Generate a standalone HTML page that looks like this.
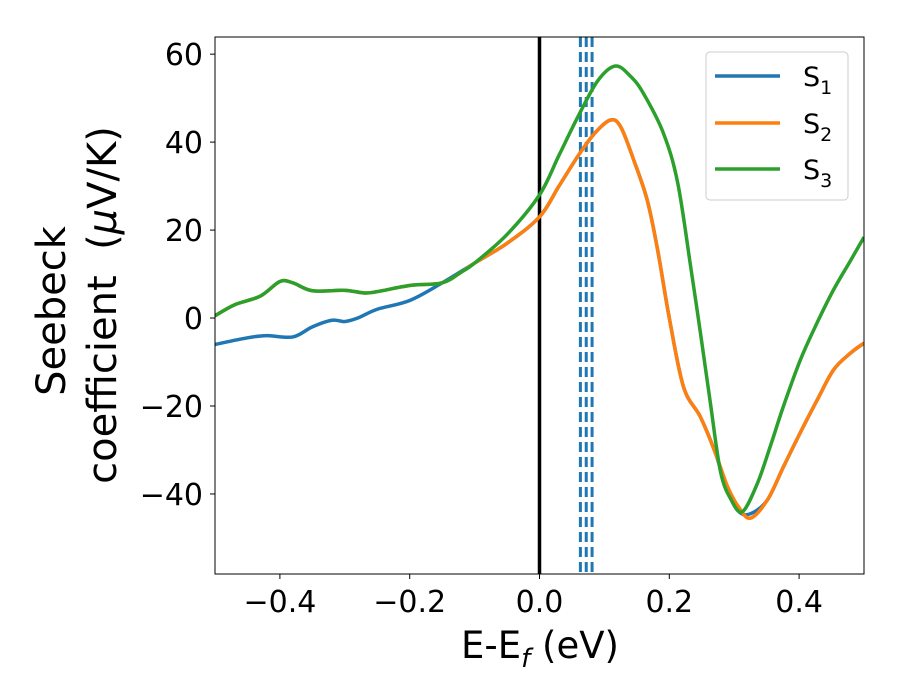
<!DOCTYPE html>
<html><head><meta charset="utf-8"><style>
body{margin:0;background:#fff;}
svg{display:block;font-family:"DejaVu Sans","Liberation Sans",sans-serif;}
</style></head><body>
<svg id="chart" width="900" height="700">
<defs><clipPath id="clip"><rect x="215" y="37" width="649" height="537"/></clipPath></defs>
<rect x="0" y="0" width="900" height="700" fill="#fff"/>
<g id="series" clip-path="url(#clip)"></g>
<rect x="215" y="37" width="649" height="537" fill="none" stroke="#000" stroke-width="1"/>
<g id="axes"></g>
<text x="540" y="658" font-size="37" text-anchor="middle">E-E<tspan font-style="italic" font-size="26" dy="9">f</tspan><tspan dy="-9"> (eV)</tspan></text>
<text transform="translate(65,311) rotate(-90)" font-size="40" text-anchor="middle">Seebeck</text>
<text transform="translate(116,305) rotate(-90)" font-size="40" text-anchor="middle" xml:space="preserve">coefficient  (<tspan font-style="italic">μ</tspan>V/K)</text>
<g>
<rect x="706" y="52" width="142" height="148" rx="4" fill="#fff" fill-opacity="0.8" stroke="#ccc"/>
<line x1="715" y1="76" x2="780" y2="76" stroke="#1f77b4" stroke-width="3.5"/>
<text x="803" y="86" font-size="27">S<tspan font-size="19" dy="8">1</tspan></text>
<line x1="715" y1="123" x2="780" y2="123" stroke="#ff7f0e" stroke-width="3.5"/>
<text x="803" y="133" font-size="27">S<tspan font-size="19" dy="8">2</tspan></text>
<line x1="715" y1="169" x2="780" y2="169" stroke="#2ca02c" stroke-width="3.5"/>
<text x="803" y="179" font-size="27">S<tspan font-size="19" dy="8">3</tspan></text>
</g>
</svg>
<script>
const xTicks=[-0.4,-0.2,0.0,0.2,0.4];
const xTickLabels=["−0.4","−0.2","0.0","0.2","0.4"];
const yTicks=[-40,-20,0,20,40,60];
const yTickLabels=["−40","−20","0","20","40","60"];
const s1X=[-0.5,-0.45,-0.42,-0.38,-0.35,-0.32,-0.3,-0.28,-0.25,-0.2,-0.15,-0.1,-0.05,0,0.03,0.06,0.085,0.109,0.125,0.145,0.166,0.182,0.2,0.222,0.248,0.271,0.29,0.307,0.325,0.351,0.376,0.402,0.428,0.453,0.479,0.5];
const s1Y=[-6,-4.5,-4,-4.3,-2,-0.5,-0.8,0,2,4,8,12.5,17,23,30,37,42,45,43.5,36,26.8,15.5,0,-15.7,-22.5,-30.7,-39.5,-44,-44.5,-41.4,-33.8,-26,-18.6,-11.8,-8,-5.7];
const s2X=[-0.5,-0.47,-0.43,-0.4,-0.38,-0.35,-0.3,-0.27,-0.25,-0.2,-0.15,-0.12,-0.1,-0.05,0,0.03,0.06,0.085,0.109,0.125,0.145,0.166,0.182,0.2,0.222,0.248,0.271,0.29,0.307,0.325,0.351,0.376,0.402,0.428,0.453,0.479,0.5];
const s2Y=[0.5,3,5,8.3,8,6.2,6.3,5.7,6,7.4,8,10.5,12.5,17,23,30,37,42,45,43.5,36,26.8,15.5,0,-15.7,-22.5,-30.7,-38.4,-43,-45.5,-41.4,-33.8,-26,-18.6,-11.8,-8,-5.7];
const s3X=[-0.5,-0.47,-0.43,-0.4,-0.38,-0.35,-0.3,-0.27,-0.25,-0.2,-0.15,-0.12,-0.1,-0.05,0,0.03,0.06,0.09,0.117,0.14,0.16,0.191,0.213,0.233,0.248,0.263,0.279,0.296,0.313,0.336,0.356,0.376,0.402,0.428,0.453,0.479,0.5];
const s3Y=[0.5,3,5,8.3,8,6.2,6.3,5.7,6,7.4,8,10.5,12.5,19,28,37,46,54,57.3,55,51.1,42,30.7,11.6,-3.4,-19,-35,-41.5,-44,-37.5,-29,-20,-9.5,-1,6.4,13,18.4];
const vLines=[0.063,0.072,0.081];
const xMin=-0.5,xMax=0.5,yMin=-58.2,yMax=63.9;
const L=215,R=864,T=37,B=574;
const sx=v=>L+(v-xMin)/(xMax-xMin)*(R-L);
const sy=v=>B-(v-yMin)/(yMax-yMin)*(B-T);
const NS="http://www.w3.org/2000/svg";
const axes=document.getElementById('axes'), series=document.getElementById('series');
function mk(t,a,p){const e=document.createElementNS(NS,t);for(const k in a)e.setAttribute(k,a[k]);p.appendChild(e);return e;}
xTicks.forEach((v,i)=>{
 const t=mk('line',{x1:sx(v),x2:sx(v),y1:B,y2:B+5,stroke:'#000'},axes);
 
 
 const l=mk('text',{x:sx(v),y:B+38,'font-size':30,'text-anchor':'middle'},axes);l.textContent=xTickLabels[i];
 
 
});
yTicks.forEach((v,i)=>{
 const t=mk('line',{x1:L-5,x2:L,y1:sy(v),y2:sy(v),stroke:'#000'},axes);
 
 
 const l=mk('text',{x:L-12,y:sy(v)+11,'font-size':30,'text-anchor':'end'},axes);l.textContent=yTickLabels[i];
 
 
});
function path(xs,ys){
 const p=xs.map((x,i)=>[sx(x),sy(ys[i])]);
 let d='M'+p[0][0]+','+p[0][1];
 for(let i=0;i<p.length-1;i++){
  const p0=p[i-1]||p[i],p1=p[i],p2=p[i+1],p3=p[i+2]||p2;
  const c1=[p1[0]+(p2[0]-p0[0])/6,p1[1]+(p2[1]-p0[1])/6];
  const c2=[p2[0]-(p3[0]-p1[0])/6,p2[1]-(p3[1]-p1[1])/6];
  d+=' C'+c1+' '+c2+' '+p2;
 }
 return d;
}
const vl=mk('line',{x1:sx(0),x2:sx(0),y1:T,y2:B,stroke:'#000','stroke-width':3.5},series);


vLines.forEach(v=>{
 const e=mk('line',{x1:sx(v),x2:sx(v),y1:T,y2:B,stroke:'#1f77b4','stroke-width':3,'stroke-dasharray':'10,5'},series);
 
 
});
[[s1X,s1Y,'#1f77b4','series-s1'],[s2X,s2Y,'#ff7f0e','series-s2'],[s3X,s3Y,'#2ca02c','series-s3']].forEach(s=>{
 const e=mk('path',{d:path(s[0],s[1]),fill:'none',stroke:s[2],'stroke-width':3.5,'stroke-linejoin':'round'},series);
 
 
});
</script>
</body></html>
